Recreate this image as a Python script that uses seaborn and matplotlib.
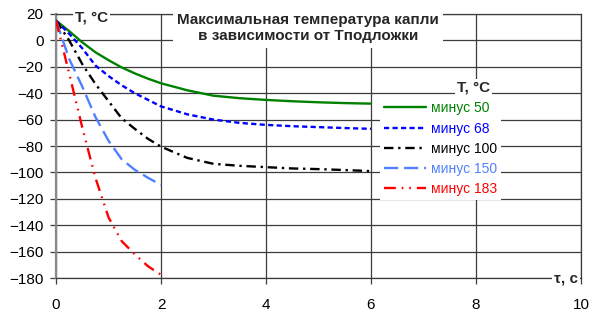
import numpy as np
import pandas as pd
import matplotlib
matplotlib.use("Agg")
import matplotlib.pyplot as plt
import seaborn as sns

# time, s
tau_long = [0, 0.25, 0.5, 0.75, 1, 1.25, 1.5, 1.75, 2, 2.5, 3, 3.5, 4, 4.5, 5, 5.5, 6]
tau_short = [0, 0.25, 0.5, 0.75, 1, 1.25, 1.5, 1.75, 2]

# max drop temperature, °C (substrate temperature in legend)
t_minus50 = [15, 7, -1.5, -9, -15, -20.5, -25, -29, -32.5, -37.8, -41.9, -43.8, -45.1, -46.1, -46.9, -47.5, -47.9]
t_minus68 = [15, 5, -6, -19, -27, -34, -40, -45, -50, -56, -60, -62.5, -64, -65, -65.7, -66.4, -67]
t_minus100 = [15, 0, -18, -33, -46, -59, -67, -74.5, -80.5, -89, -93.5, -95, -96, -97, -97.5, -98.2, -99]
t_minus150 = [15, -14, -35, -58, -76, -90, -98, -104, -109.5]
t_minus183 = [15, -25, -66, -104, -134, -152, -162, -171, -177.5]

series_names = ["минус 50", "минус 68", "минус 100", "минус 150", "минус 183"]
colors = ["#008000", "#0000ff", "#000000", "#4f81ff", "#ff0000"]
dash_styles = ["", (2.2, 1.4), (4, 2, 1, 2), (6, 2.5), (5, 2.5, 0.7, 2.5, 0.7, 2.5)]

df = pd.concat([
    pd.DataFrame({"tau": tau_long, "T": t_minus50, "s": series_names[0]}),
    pd.DataFrame({"tau": tau_long, "T": t_minus68, "s": series_names[1]}),
    pd.DataFrame({"tau": tau_long, "T": t_minus100, "s": series_names[2]}),
    pd.DataFrame({"tau": tau_short, "T": t_minus150, "s": series_names[3]}),
    pd.DataFrame({"tau": tau_short, "T": t_minus183, "s": series_names[4]}),
], ignore_index=True)

sns.set_theme(style="white")
plt.rcParams["font.family"] = ["Liberation Sans", "DejaVu Sans"]

fig = plt.figure(figsize=(5.91, 3.10), dpi=100)
ax = fig.add_axes([0.0948, 0.103, 0.8882, 0.852])

sns.lineplot(data=df, x="tau", y="T", hue="s", style="s",
             hue_order=series_names, style_order=series_names,
             palette=dict(zip(series_names, colors)),
             dashes=dict(zip(series_names, dash_styles)),
             linewidth=1.7, legend=False, ax=ax, zorder=3)

ax.set_xlim(0, 10)
ax.set_ylim(-180, 20)
ax.set_xticks(range(0, 11, 2))
ax.set_yticks(range(-180, 21, 20))
ax.set_xlabel("")
ax.set_ylabel("")
ax.set_axisbelow(True)
ax.grid(True, color="#3c3c3c", linewidth=0.9)
for side in ["top", "right", "bottom"]:
    ax.spines[side].set_color("#3c3c3c")
    ax.spines[side].set_linewidth(0.9)
ax.spines["left"].set_color("#8a8a8a")
ax.spines["left"].set_linewidth(1.6)
ax.tick_params(bottom=True, left=True, direction="out", length=4, width=0.9,
               color="#3c3c3c", labelsize=11, labelcolor="#000000")
ax.tick_params(axis="x", pad=10)
ax.tick_params(axis="y", pad=5)

box = dict(facecolor="white", edgecolor="none", pad=1.5)
ax.text(0.068, 0.985, "T, °C", transform=ax.transAxes, fontsize=11, fontweight="bold",
        ha="center", va="center", bbox=box, zorder=5)
ax.text(0.48, 0.945, "Максимальная температура капли\nв зависимости от Tподложки",
        transform=ax.transAxes, fontsize=11, fontweight="bold", ha="center", va="center",
        linespacing=1.18, bbox=dict(facecolor="white", edgecolor="none", pad=3), zorder=5)
ax.text(0.995, 0.0, "τ, с", transform=ax.transAxes, fontsize=11, fontweight="bold",
        ha="right", va="center", bbox=box, zorder=5)
ax.text(0.795, 0.72, "T, °C", transform=ax.transAxes, fontsize=11, fontweight="bold",
        ha="center", va="center", bbox=box, zorder=5)

handles = ax.get_lines()[:5]
leg = ax.legend(handles, series_names, loc="upper left", bbox_to_anchor=(0.617, 0.685),
                frameon=True, fancybox=False, framealpha=1, facecolor="white",
                edgecolor="none", fontsize=10, handlelength=3.0, handletextpad=0.35,
                labelspacing=0.45, borderpad=0.3, borderaxespad=0)
for t, c in zip(leg.get_texts(), colors):
    t.set_color(c)

fig.savefig("out.png", dpi=100)
